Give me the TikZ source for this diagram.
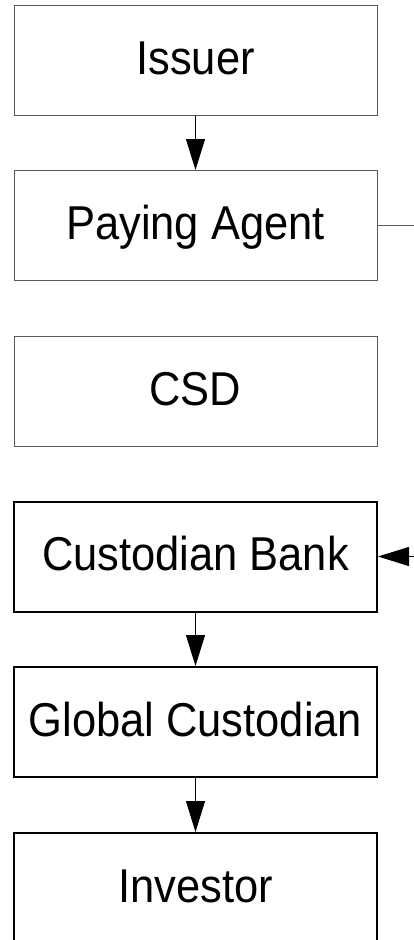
\documentclass[tikz,border=0pt]{standalone}
\usepackage{fontspec}
\setmainfont[FakeStretch=0.915]{Liberation Sans}
\usetikzlibrary{arrows.meta}
\begin{document}
\begin{tikzpicture}[x={(1pt,0)},y={(0,-1pt)},
  boxtext/.style={minimum width=363pt,minimum height=110pt,inner sep=0pt,
     text height=34pt,text depth=6pt,font=\fontsize{47.5}{57}\selectfont},
  lightbox/.style={boxtext,draw=black!65,line width=1pt},
  heavybox/.style={boxtext,draw=black,line width=2pt},
  flow/.style={draw=black,line width=1pt,-{Triangle[length=31pt,width=19pt]}},
  plainline/.style={draw=black!65,line width=1pt}]
\useasboundingbox (0,0) rectangle (414,940);
\node[lightbox] (iss) at (195.5,60) {Issuer};
\node[lightbox] (pa) at (195.5,225.5) {Paying Agent};
\node[lightbox] (csd) at (195.5,391) {CSD};
\node[heavybox] (cb) at (195.5,556.5) {Custodian Bank};
\node[heavybox] (gc) at (195.5,722) {Global Custodian};
\node[heavybox] (inv) at (195.5,888) {Investor};
\coordinate (pr) at (414,225.5);
\coordinate (cr) at (416,556.5);
\draw[flow] (iss) -- (pa);
\draw[flow] (cb) -- (gc);
\draw[flow] (gc) -- (inv);
\draw[plainline] (pa.east) -- (pr);
\draw[flow] (cr) -- (cb.east);
\end{tikzpicture}
\end{document}
